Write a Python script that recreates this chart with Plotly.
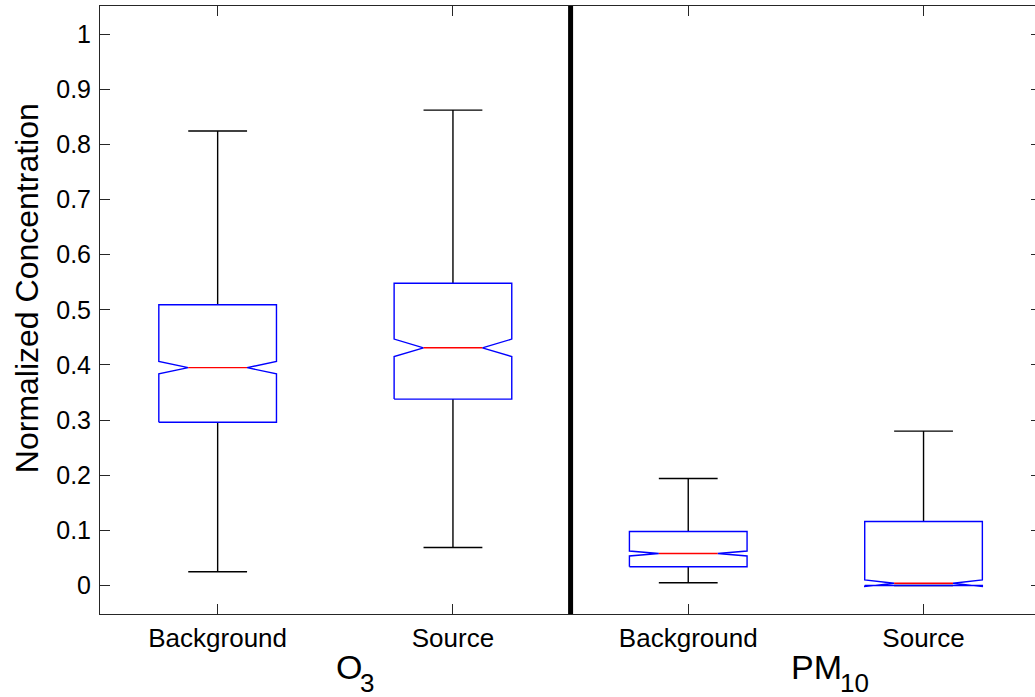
import plotly.graph_objects as go

# ---- data ----
categories = ["Background", "Source", "Background", "Source"]
positions = [1, 2, 3, 4]
group_main = ["O", "PM"]
group_sub = ["3", "10"]
group_split = [1.6135, 3.6534]   # x where main text ends and subscript starts
q1 = [0.296, 0.338, 0.034, 0.0]
median = [0.395, 0.431, 0.058, 0.004]
q3 = [0.509, 0.548, 0.098, 0.116]
notch = [0.0112, 0.0158, 0.0045, 0.006]
whisk_lo = [0.025, 0.069, 0.005, 0.0]
whisk_hi = [0.824, 0.862, 0.194, 0.280]
yticks = [0, 0.1, 0.2, 0.3, 0.4, 0.5, 0.6, 0.7, 0.8, 0.9, 1]
ytick_text = ["0", "0.1", "0.2", "0.3", "0.4", "0.5", "0.6", "0.7", "0.8", "0.9", "1"]

BOX_HALF = 0.25
FONT = "Liberation Sans, Arial, Helvetica, sans-serif"
AXCOL = "#262626"

wx, wy, bx, by, mx, my = [], [], [], [], [], []
for p, a, m, b, n, lo, hi in zip(positions, q1, median, q3, notch, whisk_lo, whisk_hi):
    w = BOX_HALF
    h = w / 2
    # whiskers + caps
    wx += [p, p, None, p, p, None, p - h, p + h, None, p - h, p + h, None]
    wy += [b, hi, None, a, lo, None, hi, hi, None, lo, lo, None]
    # notched box outline
    bx += [p - w, p - w, p - h, p - w, p - w, p + w, p + w, p + h, p + w, p + w, p - w, None]
    by += [a, m - n, m, m + n, b, b, m + n, m, m - n, a, a, None]
    # median
    mx += [p - h, p + h, None]
    my += [m, m, None]

fig = go.Figure()
fig.add_trace(go.Scatter(x=wx, y=wy, mode="lines", line=dict(color="#000000", width=1.4),
                         hoverinfo="skip", showlegend=False))
fig.add_trace(go.Scatter(x=bx, y=by, mode="lines", line=dict(color="#0000ff", width=1.4),
                         hoverinfo="skip", showlegend=False))
fig.add_trace(go.Scatter(x=mx, y=my, mode="lines", line=dict(color="#ff0000", width=1.4),
                         hoverinfo="skip", showlegend=False))
fig.add_trace(go.Scatter(x=[None], y=[None], yaxis="y2", mode="lines",
                         hoverinfo="skip", showlegend=False))

fig.add_shape(type="line", xref="x", yref="paper", x0=2.5, x1=2.5, y0=0, y1=1,
              line=dict(color="#000000", width=5))

yr = [-0.0517, 1.0508]
fig.update_layout(
    width=1035, height=697,
    margin=dict(l=100, r=0, t=6, b=83),
    paper_bgcolor="white", plot_bgcolor="white",
    showlegend=False,
    font=dict(family=FONT, color="#000000"),
    xaxis=dict(range=[0.5, 4.4737], tickmode="array", tickvals=positions, ticktext=categories,
               ticks="inside", ticklen=10, tickcolor=AXCOL, tickwidth=1,
               showline=True, linecolor=AXCOL, linewidth=1, mirror="ticks",
               showgrid=False, zeroline=False, tickfont=dict(size=26, family=FONT, color="#000000"),
               ticklabelstandoff=1, fixedrange=True),
    yaxis=dict(range=yr, tickmode="array", tickvals=yticks, ticktext=ytick_text,
               ticks="inside", ticklen=10, tickcolor=AXCOL, tickwidth=1,
               showline=True, linecolor=AXCOL, linewidth=1, mirror=False,
               showgrid=False, zeroline=False, tickfont=dict(size=25, family=FONT, color="#000000"),
               ticklabelstandoff=3, fixedrange=True),
    yaxis2=dict(range=yr, overlaying="y", side="right", tickmode="array", tickvals=yticks,
                ticks="inside", ticklen=4, tickcolor=AXCOL, tickwidth=1,
                showticklabels=False, showline=False, showgrid=False, zeroline=False,
                fixedrange=True),
)

annotations = [
    dict(text="Normalized Concentration", textangle=-90, xref="paper", yref="paper",
         x=-0.078, y=0.536, xanchor="center", yanchor="middle", showarrow=False,
         font=dict(size=32, family=FONT, color="#000000")),
]
for main, sub, xs in zip(group_main, group_sub, group_split):
    annotations.append(dict(text=main, xref="x", yref="paper", x=xs, y=-0.0872,
                            xanchor="right", yanchor="middle", showarrow=False, xshift=2,
                            font=dict(size=34, family=FONT, color="#000000")))
    annotations.append(dict(text=sub, xref="x", yref="paper", x=xs, y=-0.1141,
                            xanchor="left", yanchor="middle", showarrow=False, xshift=-4,
                            font=dict(size=26, family=FONT, color="#000000")))
fig.update_layout(annotations=annotations)

fig.write_html("out.html", config={"displayModeBar": False},
               post_script="document.body.style.margin='0px';")
